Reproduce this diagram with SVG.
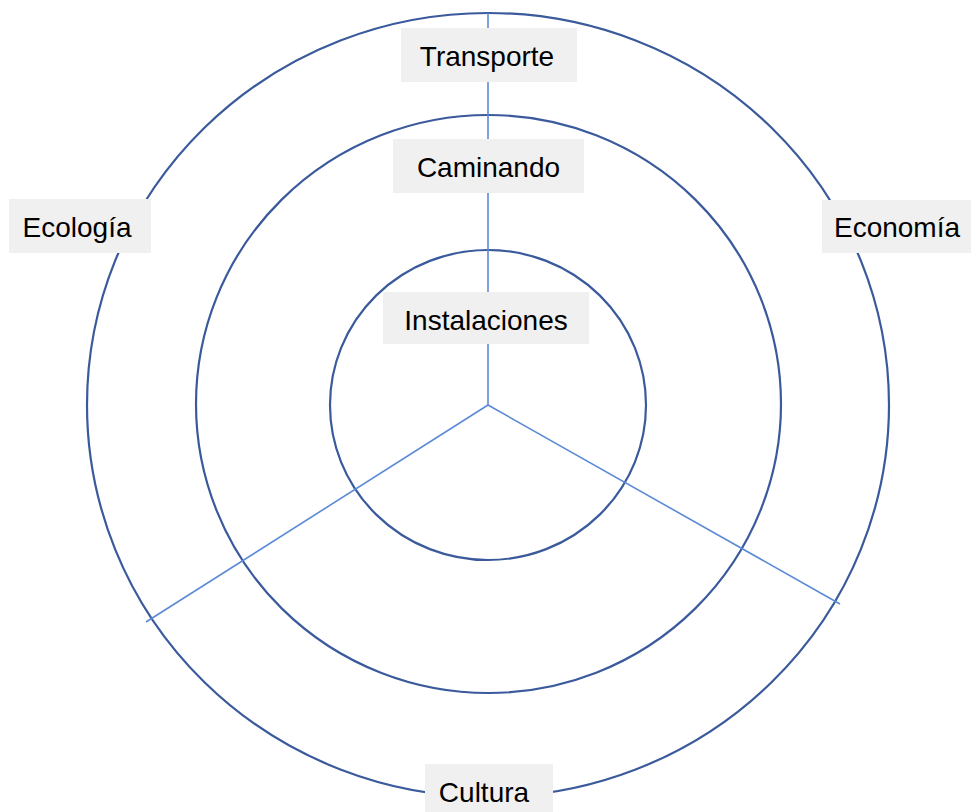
<svg xmlns="http://www.w3.org/2000/svg" width="971" height="812" viewBox="0 0 971 812">
<style>
.ring{fill:none;stroke:#3A5A9C;stroke-width:2.2}
.spoke{fill:none;stroke:#5B8AD6;stroke-width:1.6}
.box{fill:#F0F0F0}
.lbl{font-family:"Liberation Sans","Noto Sans",sans-serif;font-size:28px;fill:#000;text-anchor:middle}
</style>
<rect width="971" height="812" fill="#fff"/>
<g id="rings">
<ellipse class="ring" cx="488" cy="405" rx="401" ry="392"/>
<ellipse class="ring" cx="488.5" cy="404" rx="292.5" ry="289"/>
<ellipse class="ring" cx="488" cy="405" rx="158" ry="155"/>
</g>
<g id="connectors">
<line class="spoke" x1="488" y1="405" x2="488" y2="13"/>
<line class="spoke" x1="488" y1="405" x2="146" y2="622"/>
<line class="spoke" x1="488" y1="405" x2="840" y2="604"/>
</g>
<g id="transporte"><rect class="box" x="401" y="28" width="176" height="54"/><text class="lbl" x="487" y="66">Transporte</text></g>
<g id="caminando"><rect class="box" x="393" y="139" width="191" height="54"/><text class="lbl" x="488.5" y="177">Caminando</text></g>
<g id="instalaciones"><rect class="box" x="383" y="292" width="206" height="52"/><text class="lbl" x="486" y="330">Instalaciones</text></g>
<g id="ecologia"><rect class="box" x="9" y="199" width="142" height="54"/><text class="lbl" x="77" y="237">Ecología</text></g>
<g id="economia"><rect class="box" x="822" y="200" width="149" height="53"/><text class="lbl" x="897" y="237">Economía</text></g>
<g id="cultura"><rect class="box" x="425" y="764" width="128" height="48"/><text class="lbl" x="484" y="802">Cultura</text></g>
</svg>
